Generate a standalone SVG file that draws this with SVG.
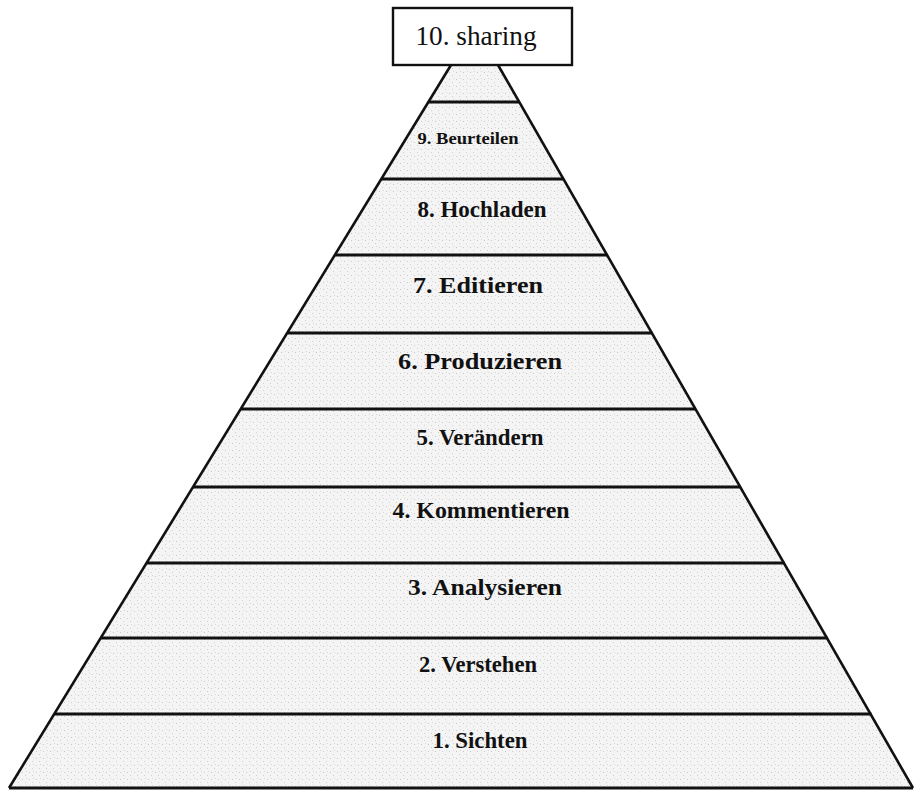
<svg xmlns="http://www.w3.org/2000/svg" width="916" height="790" viewBox="0 0 916 790">
<style>
.edge{fill:none;stroke:#111;stroke-width:2.6;stroke-linejoin:miter}
.sep{stroke:#111;stroke-width:3.2}
.lbl{font-family:"Liberation Serif","Times New Roman",serif;font-weight:bold;font-size:24px;fill:#111;text-anchor:middle}
.box{fill:#fff;stroke:#111;stroke-width:2.4}
.top{font-family:"Liberation Serif","Times New Roman",serif;font-size:27px;fill:#111;text-anchor:middle}
</style>
<defs>
<pattern id="speck" width="7" height="7" patternUnits="userSpaceOnUse">
<rect width="7" height="7" fill="#f4f4f4"/>
<rect x="1" y="2" width="1" height="1" fill="#c8c8c8"/>
<rect x="4" y="5" width="1" height="1" fill="#d0d0d0"/>
<rect x="5" y="1" width="1" height="1" fill="#d8d8d8"/>
</pattern>
</defs>
<rect width="916" height="790" fill="#fff"/>
<g id="pyramid">
<polygon points="451,65 498,65 913,788 9,788" fill="url(#speck)"/>
</g>
<g id="connectors">
<line class="sep" x1="428.4" y1="102" x2="519.3" y2="102"/>
<line class="sep" x1="381.3" y1="179" x2="563.6" y2="179"/>
<line class="sep" x1="334.9" y1="255" x2="607.4" y2="255"/>
<line class="sep" x1="287.2" y1="333" x2="652.3" y2="333"/>
<line class="sep" x1="240.7" y1="409" x2="696" y2="409"/>
<line class="sep" x1="193" y1="487" x2="740.9" y2="487"/>
<line class="sep" x1="146.6" y1="563" x2="784.6" y2="563"/>
<line class="sep" x1="100.7" y1="638" x2="827.8" y2="638"/>
<line class="sep" x1="54.3" y1="714" x2="871.5" y2="714"/>
<line class="sep" x1="9" y1="788" x2="913" y2="788"/>
<polyline class="edge" points="9,788 451,65"/>
<polyline class="edge" points="498,65 913,788"/>
</g>
<g id="level9"><text class="lbl" x="468" y="144" style="font-size:16px" textLength="101" lengthAdjust="spacingAndGlyphs">9. Beurteilen</text></g>
<g id="level8"><text class="lbl" x="482" y="217" textLength="129" lengthAdjust="spacingAndGlyphs">8. Hochladen</text></g>
<g id="level7"><text class="lbl" x="478" y="293" textLength="130" lengthAdjust="spacingAndGlyphs">7. Editieren</text></g>
<g id="level6"><text class="lbl" x="480" y="369" textLength="164" lengthAdjust="spacingAndGlyphs">6. Produzieren</text></g>
<g id="level5"><text class="lbl" x="480" y="445" textLength="127" lengthAdjust="spacingAndGlyphs">5. Verändern</text></g>
<g id="level4"><text class="lbl" x="481" y="518" textLength="177" lengthAdjust="spacingAndGlyphs">4. Kommentieren</text></g>
<g id="level3"><text class="lbl" x="485" y="595" textLength="154" lengthAdjust="spacingAndGlyphs">3. Analysieren</text></g>
<g id="level2"><text class="lbl" x="478" y="672" textLength="118" lengthAdjust="spacingAndGlyphs">2. Verstehen</text></g>
<g id="level1"><text class="lbl" x="480" y="748" textLength="95" lengthAdjust="spacingAndGlyphs">1. Sichten</text></g>
<g id="level10">
<rect class="box" x="393" y="8" width="179" height="57"/>
<text class="top" x="476" y="45" textLength="121" lengthAdjust="spacingAndGlyphs">10. sharing</text>
</g>
</svg>
